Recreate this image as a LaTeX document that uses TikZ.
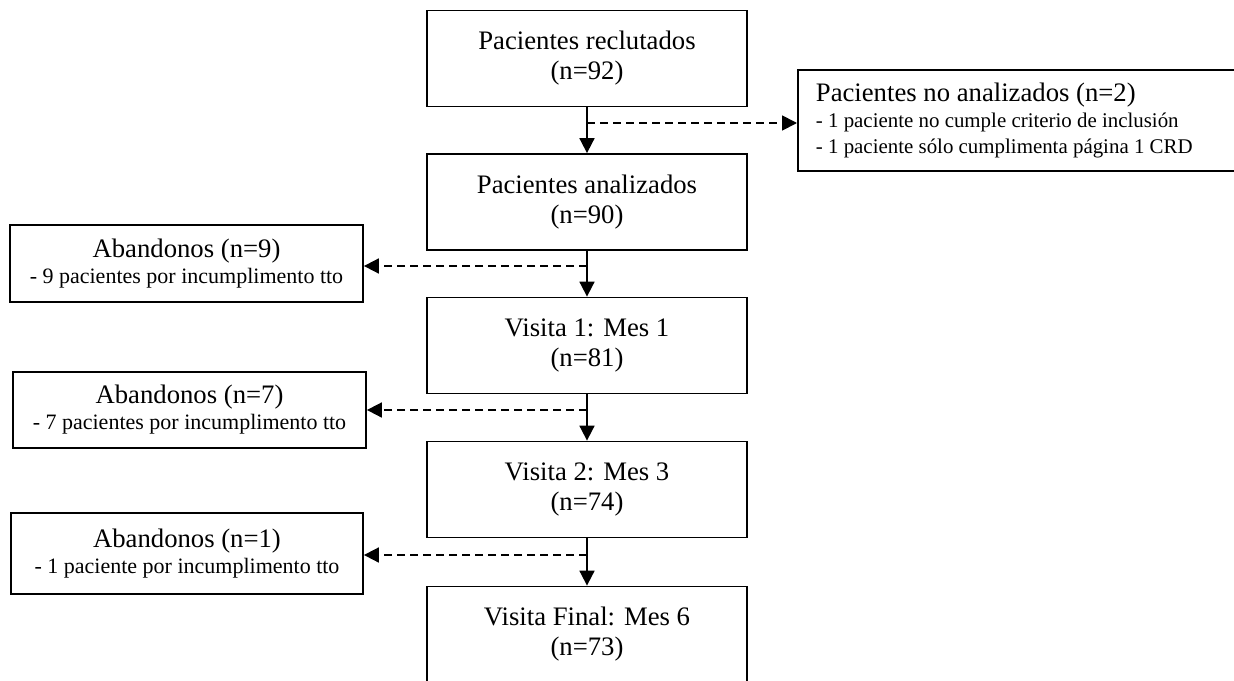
\documentclass[tikz,border=0pt]{standalone}
\usepackage{fontspec}
\setmainfont{Liberation Serif}
\usetikzlibrary{arrows.meta}
\newcommand\sidesub{\fontsize{22}{26}\selectfont}
\newcommand\rightsub{\fontsize{20.9}{26}\selectfont}
\begin{document}
\begin{tikzpicture}[x=1pt,y=-1pt,
  mainbox/.style={draw,line width=1.8pt,rectangle,inner sep=0pt,align=flush center,
    font=\fontsize{26.7}{30}\selectfont,minimum width=320pt,minimum height=96pt},
  sidebox/.style={draw,line width=1.8pt,rectangle,inner sep=0pt,align=flush center,
    font=\fontsize{26.7}{26}\selectfont,minimum width=353pt},
  flow/.style={line width=1.8pt,-{Triangle[length=15pt,width=15pt]}},
  drop/.style={flow,dash pattern=on 8pt off 5pt}]
\useasboundingbox (0,0) rectangle (1234,680);
\clip (0,0) rectangle (1234,680);

% main column
\node[mainbox] (r1) at (587,58.5) {Pacientes reclutados\\(n=92)};
\node[mainbox] (r2) at (587,202) {Pacientes analizados\\(n=90)};
\node[mainbox] (v1) at (587,345.5) {Visita 1: Mes 1\\(n=81)};
\node[mainbox] (v2) at (587,489.5) {Visita 2: Mes 3\\(n=74)};
\node[mainbox] (vf) at (587,634.5) {Visita Final: Mes 6\\(n=73)};

% side boxes
\node[draw,line width=1.8pt,rectangle,anchor=west,inner xsep=18pt,inner ysep=0pt,
  minimum height=101pt,text width=407pt,align=flush left,font=\fontsize{26.7}{26}\selectfont]
  (rb) at (797,120.5) {Pacientes no analizados (n=2)\\{\rightsub - 1 paciente no cumple criterio de inclusión}\\{\rightsub - 1 paciente sólo cumplimenta página 1 CRD}};
\node[sidebox,minimum height=77pt] (a9) at (186.5,263.5) {Abandonos (n=9)\\{\sidesub - 9 pacientes por incumplimento tto}};
\node[sidebox,minimum height=76pt] (a7) at (189.5,410) {Abandonos (n=7)\\{\sidesub - 7 pacientes por incumplimento tto}};
\node[sidebox,minimum height=81pt,minimum width=352pt] (a1) at (187,553.5) {Abandonos (n=1)\\{\sidesub - 1 paciente por incumplimento tto}};

% branch points
\coordinate (b0) at (587,123);
\coordinate (b1) at (587,266);
\coordinate (b2) at (587,410);
\coordinate (b3) at (587,555);

% connectors
\draw[flow] (r1.south) -- (r2.north);
\draw[flow] (r2.south) -- (v1.north);
\draw[flow] (v1.south) -- (v2.north);
\draw[flow] (v2.south) -- (vf.north);
\draw[drop] (b0) -- (b0 -| rb.west);
\draw[drop] (b1) -- (b1 -| a9.east);
\draw[drop] (b2) -- (b2 -| a7.east);
\draw[drop] (b3) -- (b3 -| a1.east);
\end{tikzpicture}
\end{document}
